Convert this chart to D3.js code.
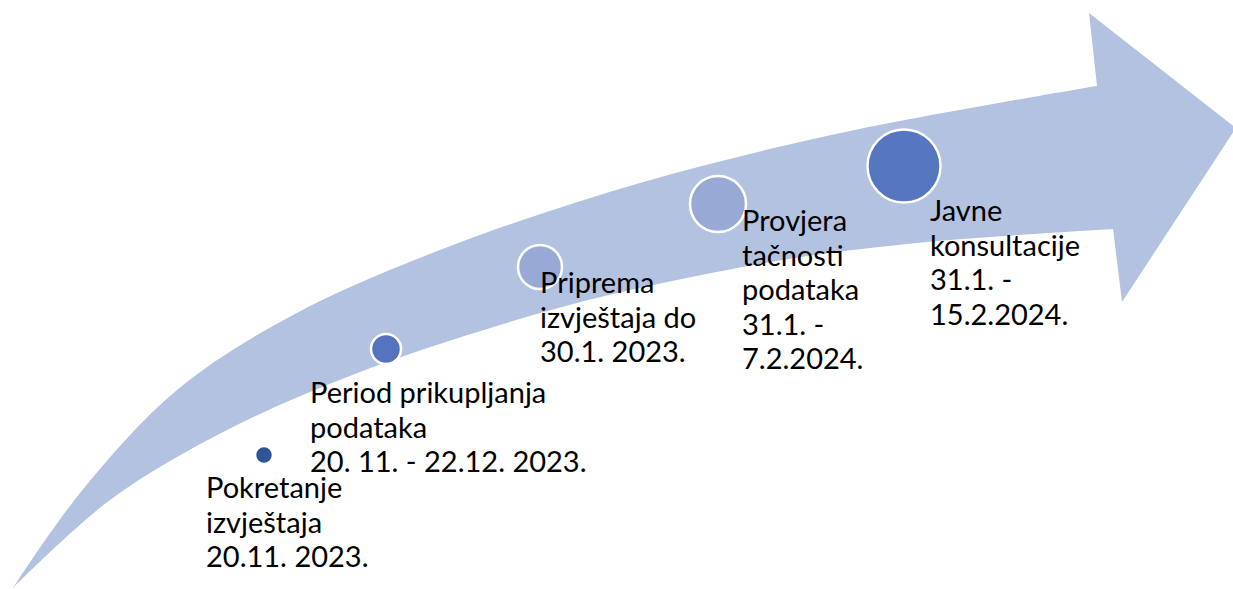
<!DOCTYPE html>
<html>
<head>
<meta charset="utf-8">
<script src="https://cdn.jsdelivr.net/npm/d3@7"></script>
<style>
  html, body { margin: 0; padding: 0; background: #ffffff; }
  svg { display: block; }
</style>
</head>
<body>
<div id="chart"></div>
<script>
// steps of the process (text only)
const stepNames = ['Pokretanje', 'Period prikupljanja', 'Priprema', 'Provjera', 'Javne']
const stepLines = [
  ['Pokretanje', 'izvještaja', '20.11. 2023.'],
  ['Period prikupljanja', 'podataka', '20. 11. - 22.12. 2023.'],
  ['Priprema', 'izvještaja do', '30.1. 2023.'],
  ['Provjera', 'tačnosti', 'podataka', '31.1. -', '7.2.2024.'],
  ['Javne', 'konsultacije', '31.1. -', '15.2.2024.']
]

// layout of the SmartArt-like arrow (pixels)
const upperEdge = [[13, 588], [80, 493], [177, 390], [293, 315], [440, 250], [640, 183], [850, 131], [1097, 86]]
const lowerEdge = [[1113, 229], [917, 243], [783, 260], [613, 294], [500, 325], [360, 372], [227, 430], [110, 500], [13, 588]]
const headPts = [[1089, 13], [1236, 128], [1122, 302]]

const circleLayout = [
  { x: 264, y: 455, r: 9, fill: '#2F5597' },
  { x: 386, y: 349, r: 15, fill: '#5573BF' },
  { x: 540, y: 267, r: 22, fill: '#98A9D6' },
  { x: 718, y: 204, r: 28, fill: '#98A9D6' },
  { x: 904, y: 166, r: 36.5, fill: '#5676C0' }
]
const textLayout = [
  { x: 206, y: 498 },
  { x: 310, y: 403 },
  { x: 540, y: 293 },
  { x: 742, y: 231 },
  { x: 930, y: 221 }
]

const width = 1233, height = 589
const lineGap = 34.5

const svg = d3.select('#chart')
  .append('svg')
    .attr('width', width)
    .attr('height', height)

// arrow body + head
const edge = d3.line().curve(d3.curveCatmullRom.alpha(0.5))
const upperPath = edge(upperEdge)
const lowerPath = edge(lowerEdge).replace(/^M/, 'L')
const headPath = headPts.map(p => 'L' + p[0] + ',' + p[1]).join('')

svg.append('path')
  .attr('d', upperPath + headPath + lowerPath + 'Z')
  .style('fill', '#B4C2E2')

// circles
svg.append('g')
  .selectAll('circle')
  .data(stepNames)
  .enter()
  .append('circle')
    .attr('cx', (d, i) => circleLayout[i].x)
    .attr('cy', (d, i) => circleLayout[i].y)
    .attr('r', (d, i) => circleLayout[i].r)
    .style('fill', (d, i) => circleLayout[i].fill)
    .style('stroke', '#ffffff')
    .style('stroke-width', 2.5)

// labels
const labels = svg.append('g')
  .selectAll('text')
  .data(stepLines)
  .enter()
  .append('text')
    .attr('x', (d, i) => textLayout[i].x)
    .attr('y', (d, i) => textLayout[i].y)
    .style('font-family', 'Lato, "Open Sans", sans-serif')
    .style('font-size', '29px')
    .style('fill', '#000000')

labels.each(function(lines, i) {
  d3.select(this).selectAll('tspan')
    .data(lines)
    .enter()
    .append('tspan')
      .attr('x', textLayout[i].x)
      .attr('y', (d, j) => textLayout[i].y + j * lineGap)
      .text(d => d)
})
</script>
</body>
</html>
